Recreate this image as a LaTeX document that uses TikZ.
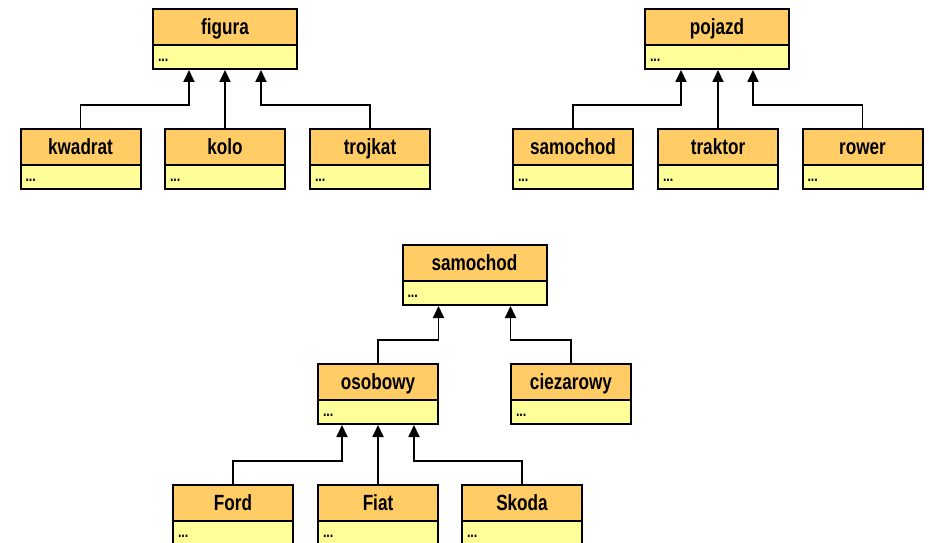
\documentclass[tikz,border=0pt]{standalone}
\usepackage{fontspec}
\setmainfont[FakeStretch=0.78]{Liberation Sans}
\usetikzlibrary{arrows.meta,positioning}
\definecolor{klasaOr}{RGB}{255,204,102}
\definecolor{klasaZo}{RGB}{255,255,153}
\tikzset{
  klasa/.style={draw, line width=2pt, fill=klasaOr, minimum width=#1,
    minimum height=36pt, inner sep=0pt, outer sep=0pt, text height=17pt,
    text depth=2pt, font=\fontsize{22}{24}\selectfont\bfseries},
  klasa/.default=120pt,
  pola/.style={draw, line width=2pt, fill=klasaZo, text width=#1,
    minimum height=24pt, inner xsep=5pt, inner ysep=0pt, outer sep=0pt,
    anchor=north, text height=9pt, text depth=0pt, align=left,
    font=\fontsize{16}{18}\selectfont\bfseries},
  pola/.default=110pt,
  dzied/.style={-{Triangle[width=11pt,length=12pt]}, line width=1.8pt,
    shorten >=1pt, shorten <=1pt}
}

\begin{document}
\begin{tikzpicture}[x=1pt,y=-1pt]
  \useasboundingbox (0,0) rectangle (929,543);
  % figury
  \node[klasa=144pt] (figura) at (225,27) {figura};
  \node[pola=134pt] (figura-b) at (figura.south) {...};
  \node[klasa] (kwadrat) at (80.5,147) {kwadrat};
  \node[pola] (kwadrat-b) at (kwadrat.south) {...};
  \node[klasa] (kolo) at (225,147) {kolo};
  \node[pola] (kolo-b) at (kolo.south) {...};
  \node[klasa] (trojkat) at (370,147) {trojkat};
  \node[pola] (trojkat-b) at (trojkat.south) {...};
  \draw[dzied] (kwadrat.north) -- ++(0,-24) -| ([xshift=-36pt]figura-b.south);
  \draw[dzied] (kolo.north) -- (figura-b.south);
  \draw[dzied] (trojkat.north) -- ++(0,-24) -| ([xshift=36pt]figura-b.south);
  % pojazdy
  \node[klasa=144pt] (pojazd) at (717,27) {pojazd};
  \node[pola=134pt] (pojazd-b) at (pojazd.south) {...};
  \node[klasa] (samochod) at (573,147) {samochod};
  \node[pola] (samochod-b) at (samochod.south) {...};
  \node[klasa] (traktor) at (718,147) {traktor};
  \node[pola] (traktor-b) at (traktor.south) {...};
  \node[klasa] (rower) at (862.5,147) {rower};
  \node[pola] (rower-b) at (rower.south) {...};
  \draw[dzied] (samochod.north) -- ++(0,-24) -| ([xshift=-36pt]pojazd-b.south);
  \draw[dzied] (traktor.north) -- (traktor.north |- pojazd-b.south);
  \draw[dzied] (rower.north) -- ++(0,-24) -| ([xshift=36pt]pojazd-b.south);
  % samochody
  \node[klasa=144pt] (auto) at (474.5,263) {samochod};
  \node[pola=134pt] (auto-b) at (auto.south) {...};
  \node[klasa] (osobowy) at (378,382) {osobowy};
  \node[pola] (osobowy-b) at (osobowy.south) {...};
  \node[klasa] (ciezarowy) at (571,382) {ciezarowy};
  \node[pola] (ciezarowy-b) at (ciezarowy.south) {...};
  \draw[dzied] (osobowy.north) -- ++(0,-24) -| ([xshift=-36pt]auto-b.south);
  \draw[dzied] (ciezarowy.north) -- ++(0,-24) -| ([xshift=36pt]auto-b.south);
  \node[klasa] (ford) at (233,503) {Ford};
  \node[pola] (ford-b) at (ford.south) {...};
  \node[klasa] (fiat) at (378,503) {Fiat};
  \node[pola] (fiat-b) at (fiat.south) {...};
  \node[klasa] (skoda) at (522,503) {Skoda};
  \node[pola] (skoda-b) at (skoda.south) {...};
  \draw[dzied] (ford.north) -- ++(0,-24) -| ([xshift=-36pt]osobowy-b.south);
  \draw[dzied] (fiat.north) -- (osobowy-b.south);
  \draw[dzied] (skoda.north) -- ++(0,-24) -| ([xshift=36pt]osobowy-b.south);
\end{tikzpicture}
\end{document}
